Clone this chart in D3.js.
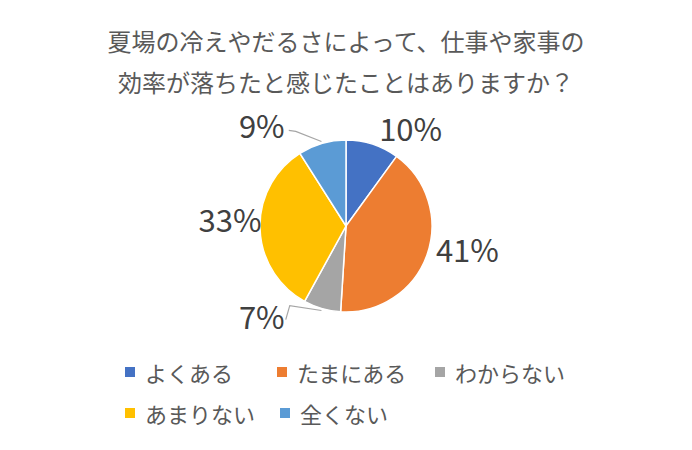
<!DOCTYPE html>
<html><head><meta charset="utf-8">
<script src="https://cdn.jsdelivr.net/npm/d3@7"></script>
<style>body{margin:0;background:#fff;font-family:"Noto Sans CJK JP","Noto Sans",sans-serif;}</style>
</head><body><svg id="c" width="692" height="450"></svg>
<script>
const titleLines = ["夏場の冷えやだるさによって、仕事や家事の", "効率が落ちたと感じたことはありますか？"];
const categories = ["よくある", "たまにある", "わからない", "あまりない", "全くない"];
const values = [10, 41, 7, 33, 9];
const colors = ["#4472C4", "#ED7D31", "#A5A5A5", "#FFC000", "#5B9BD5"];
// label nudges relative to arc centroid (r = 112)
const labelNudge = [[30, 8], [16, -15], [-53, -18], [-4, -11], [-53, 6]];

const svg = d3.select("#c");
const cx = 346, cy = 226, r = 86;

svg.selectAll(".title").data(titleLines).join("text")
  .attr("x", 346).attr("y", (d, i) => 40 + i * 41)
  .attr("text-anchor", "middle").attr("dominant-baseline", "central")
  .attr("font-size", 24).attr("fill", "#595959")
  .text(d => d);

const pie = d3.pie().sort(null).value(d => d)(values);
const arc = d3.arc().innerRadius(0).outerRadius(r);
const labelArc = d3.arc().innerRadius(112).outerRadius(112);
const edgeArc = d3.arc().innerRadius(r + 2).outerRadius(r + 2);

const g = svg.append("g").attr("transform", `translate(${cx},${cy})`);
g.selectAll("path").data(pie).join("path")
  .attr("d", arc).attr("fill", (d, i) => colors[i])
  .attr("stroke", "#fff").attr("stroke-width", 1.5);

// leader lines for small slices
[2, 4].forEach(i => {
  const e = edgeArc.centroid(pie[i]);
  const c = labelArc.centroid(pie[i]);
  const lx = c[0] + labelNudge[i][0], ly = c[1] + labelNudge[i][1];
  const pts = i === 4 ? [[lx + 27, ly + 6], [lx + 34, ly + 7], e] : [[lx + 24, ly + 4], [lx + 28, ly - 10], e];
  g.append("path").attr("d", d3.line()(pts)).attr("fill", "none")
    .attr("stroke", "#A6A6A6").attr("stroke-width", 1.2);
});

g.selectAll(".lbl").data(pie).join("text")
  .attr("x", (d, i) => labelArc.centroid(d)[0] + labelNudge[i][0])
  .attr("y", (d, i) => labelArc.centroid(d)[1] + labelNudge[i][1])
  .attr("text-anchor", "middle").attr("dominant-baseline", "central")
  .attr("font-size", 31).attr("fill", "#404040")
  .text(d => d.data + "%");

const legendPos = [[125, 372], [277, 372], [435, 372], [125, 413], [280, 413]];
const lg = svg.selectAll(".lg").data(categories).join("g")
  .attr("transform", (d, i) => `translate(${legendPos[i][0]},${legendPos[i][1]})`);
lg.append("rect").attr("x", 0).attr("y", -5).attr("width", 10).attr("height", 10)
  .attr("fill", (d, i) => colors[i]);
lg.append("text").attr("x", 20).attr("y", 0).attr("dominant-baseline", "central")
  .attr("font-size", 22).attr("fill", "#595959").text(d => d);
</script></body></html>
